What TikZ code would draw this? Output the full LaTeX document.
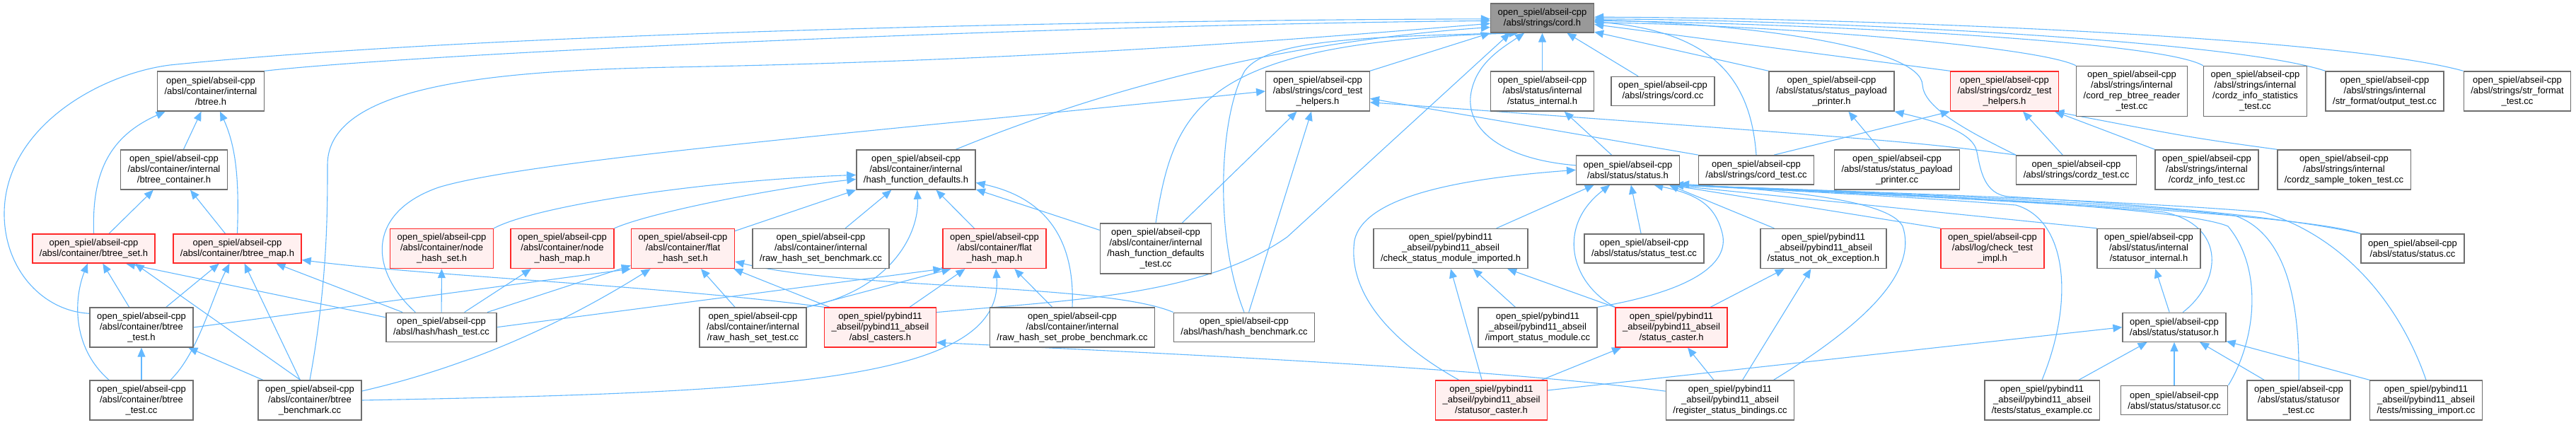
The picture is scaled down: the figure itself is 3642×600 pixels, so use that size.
\documentclass[tikz,border=0pt]{standalone}
\usepackage{fontspec}
\setmainfont{Liberation Sans}
\usetikzlibrary{arrows.meta,backgrounds}
\definecolor{edgeCol}{RGB}{99,184,255}
\definecolor{boxCol}{RGB}{110,110,110}
\definecolor{hotCol}{RGB}{255,40,40}
\definecolor{hotFill}{RGB}{255,240,240}
\definecolor{rootFill}{RGB}{153,153,153}
\tikzset{
  incl/.style={draw=boxCol,line width=0.7pt,fill=white,align=center,
               inner xsep=5pt,inner ysep=1pt,font=\fontsize{6.5}{7.5}\selectfont},
  hot/.style={incl,draw=hotCol,fill=hotFill},
  rootnode/.style={incl,fill=rootFill},
  l2/.style={minimum height=20.5pt},
  l3/.style={minimum height=28pt},
  l4/.style={minimum height=35.5pt},
  dep/.style={draw=edgeCol,line width=0.55pt,-{Triangle[length=6.5pt,width=5.5pt]}},
}

\begin{document}
\begin{tikzpicture}[x=0.5pt,y=-0.5pt]
    \useasboundingbox (0,0) rectangle (3642,600);
    \node[rootnode,l2] (cord) at (2180.5,25.5) {open\_spiel/abseil-cpp\\/absl/strings/cord.h};
    \node[incl,l3] (btree) at (298,129) {open\_spiel/abseil-cpp\\/absl/container/internal\\/btree.h};
    \node[incl,l3] (btreecont) at (246,240) {open\_spiel/abseil-cpp\\/absl/container/internal\\/btree\_container.h};
    \node[hot,l2] (btreeset) at (132.5,351.5) {open\_spiel/abseil-cpp\\/absl/container/btree\_set.h};
    \node[hot,l2] (btreemap) at (335.5,351.5) {open\_spiel/abseil-cpp\\/absl/container/btree\_map.h};
    \node[incl,l3] (btreetesth) at (200,463) {open\_spiel/abseil-cpp\\/absl/container/btree\\\_test.h};
    \node[incl,l3] (btreetestcc) at (200,566) {open\_spiel/abseil-cpp\\/absl/container/btree\\\_test.cc};
    \node[incl,l3] (btreebench) at (438,566) {open\_spiel/abseil-cpp\\/absl/container/btree\\\_benchmark.cc};
    \node[incl,l3] (hashfd) at (1295,240) {open\_spiel/abseil-cpp\\/absl/container/internal\\/hash\_function\_defaults.h};
    \node[hot,l3] (nodeset) at (624.6,351.5) {open\_spiel/abseil-cpp\\/absl/container/node\\\_hash\_set.h};
    \node[hot,l3] (nodemap) at (795,351.5) {open\_spiel/abseil-cpp\\/absl/container/node\\\_hash\_map.h};
    \node[hot,l3] (flatset) at (965.5,351.5) {open\_spiel/abseil-cpp\\/absl/container/flat\\\_hash\_set.h};
    \node[incl,l3] (rawbench) at (1160.5,351.5) {open\_spiel/abseil-cpp\\/absl/container/internal\\/raw\_hash\_set\_benchmark.cc};
    \node[hot,l3] (flatmap) at (1406,351.5) {open\_spiel/abseil-cpp\\/absl/container/flat\\\_hash\_map.h};
    \node[incl,l4] (hashfdtest) at (1634,351.5) {open\_spiel/abseil-cpp\\/absl/container/internal\\/hash\_function\_defaults\\\_test.cc};
    \node[incl,l2] (hashtest) at (624,462.7) {open\_spiel/abseil-cpp\\/absl/hash/hash\_test.cc};
    \node[incl,l3] (rawtest) at (1064.5,463) {open\_spiel/abseil-cpp\\/absl/container/internal\\/raw\_hash\_set\_test.cc};
    \node[hot,l3] (casters) at (1244.5,463) {open\_spiel/pybind11\\\_abseil/pybind11\_abseil\\/absl\_casters.h};
    \node[incl,l3] (probebench) at (1516,463) {open\_spiel/abseil-cpp\\/absl/container/internal\\/raw\_hash\_set\_probe\_benchmark.cc};
    \node[incl,l2] (hashbench) at (1759,462.7) {open\_spiel/abseil-cpp\\/absl/hash/hash\_benchmark.cc};
    \node[incl,l3] (cordth) at (1863,129) {open\_spiel/abseil-cpp\\/absl/strings/cord\_test\\\_helpers.h};
    \node[incl,l3] (statusint) at (2180.5,129) {open\_spiel/abseil-cpp\\/absl/status/internal\\/status\_internal.h};
    \node[incl,l2] (cordcc) at (2351,129) {open\_spiel/abseil-cpp\\/absl/strings/cord.cc};
    \node[incl,l2] (status) at (2301.5,240.3) {open\_spiel/abseil-cpp\\/absl/status/status.h};
    \node[incl,l2] (cordtest) at (2483,240.3) {open\_spiel/abseil-cpp\\/absl/strings/cord\_test.cc};
    \node[incl,l3] (payloadh) at (2589.5,129) {open\_spiel/abseil-cpp\\/absl/status/status\_payload\\\_printer.h};
    \node[incl,l3] (payloadcc) at (2682,240) {open\_spiel/abseil-cpp\\/absl/status/status\_payload\\\_printer.cc};
    \node[hot,l3] (cordzth) at (2834,129) {open\_spiel/abseil-cpp\\/absl/strings/cordz\_test\\\_helpers.h};
    \node[incl,l4] (btreereader) at (3014,129) {open\_spiel/abseil-cpp\\/absl/strings/internal\\/cord\_rep\_btree\_reader\\\_test.cc};
    \node[incl,l4] (cordzstats) at (3188.5,129) {open\_spiel/abseil-cpp\\/absl/strings/internal\\/cordz\_info\_statistics\\\_test.cc};
    \node[incl,l3] (outputtest) at (3371.5,129) {open\_spiel/abseil-cpp\\/absl/strings/internal\\/str\_format/output\_test.cc};
    \node[incl,l3] (strformattest) at (3559,129) {open\_spiel/abseil-cpp\\/absl/strings/str\_format\\\_test.cc};
    \node[incl,l2] (cordztest) at (2935.5,240.3) {open\_spiel/abseil-cpp\\/absl/strings/cordz\_test.cc};
    \node[incl,l3] (cordzinfotest) at (3120,240) {open\_spiel/abseil-cpp\\/absl/strings/internal\\/cordz\_info\_test.cc};
    \node[incl,l3] (sampletoken) at (3314,240) {open\_spiel/abseil-cpp\\/absl/strings/internal\\/cordz\_sample\_token\_test.cc};
    \node[incl,l3] (checkmod) at (2051,351.5) {open\_spiel/pybind11\\\_abseil/pybind11\_abseil\\/check\_status\_module\_imported.h};
    \node[incl,l2] (statustest) at (2324.5,351.5) {open\_spiel/abseil-cpp\\/absl/status/status\_test.cc};
    \node[incl,l3] (notok) at (2578,351.5) {open\_spiel/pybind11\\\_abseil/pybind11\_abseil\\/status\_not\_ok\_exception.h};
    \node[incl,l3] (importmod) at (2174,463) {open\_spiel/pybind11\\\_abseil/pybind11\_abseil\\/import\_status\_module.cc};
    \node[hot,l3] (statuscaster) at (2363,463) {open\_spiel/pybind11\\\_abseil/pybind11\_abseil\\/status\_caster.h};
    \node[hot,l3] (statusorcaster) at (2108.5,566) {open\_spiel/pybind11\\\_abseil/pybind11\_abseil\\/statusor\_caster.h};
    \node[incl,l3] (regbind) at (2446,566) {open\_spiel/pybind11\\\_abseil/pybind11\_abseil\\/register\_status\_bindings.cc};
    \node[hot,l3] (checkimpl) at (2817,351.5) {open\_spiel/abseil-cpp\\/absl/log/check\_test\\\_impl.h};
    \node[incl,l3] (statusorint) at (3038,351.5) {open\_spiel/abseil-cpp\\/absl/status/internal\\/statusor\_internal.h};
    \node[incl,l2] (statuscc) at (3411,351.5) {open\_spiel/abseil-cpp\\/absl/status/status.cc};
    \node[incl,l2] (statusor) at (3074,462.7) {open\_spiel/abseil-cpp\\/absl/status/statusor.h};
    \node[incl,l3] (example) at (2887,566) {open\_spiel/pybind11\\\_abseil/pybind11\_abseil\\/tests/status\_example.cc};
    \node[incl,l2] (statusorcc) at (3074,566) {open\_spiel/abseil-cpp\\/absl/status/statusor.cc};
    \node[incl,l3] (statusortest) at (3250,566) {open\_spiel/abseil-cpp\\/absl/status/statusor\\\_test.cc};
    \node[incl,l3] (missing) at (3430,566) {open\_spiel/pybind11\\\_abseil/pybind11\_abseil\\/tests/missing\_import.cc};
    \begin{scope}[on background layer]
    \draw[dep] (btreetesth.165) .. controls (60,440) and (5,380) .. (6,300)
      .. controls (8,180) and (140,105) .. (240,92) .. controls (700,45) and (1600,28) .. (cord.181);
    \draw[dep] (btree.north east) .. controls (600,75) and (1500,35) .. (cord.183);
    \draw[dep] (btreebench.north) .. controls (463,400) and (463,300) .. (463,233)
      .. controls (463,120) and (700,100) .. (950,95) .. controls (1500,85) and (1900,50) .. (cord.186);
    \draw[dep] (hashfd.27) .. controls (1550,130) and (1800,60) .. (cord.190);
    \draw[dep] (cordth.north east) -- (cord.south west);
    \draw[dep] (hashfdtest.north) .. controls (1660,150) and (1700,60) .. (cord.212);
    \draw[dep] (hashbench.north) .. controls (1715,330) and (1725,160) .. (1760,100)
      .. controls (1790,60) and (1900,52) .. (cord.208);
    \draw[dep] (casters.15) .. controls (1500,425) and (1700,420) .. (1820,335) -- (cord.205);
    \draw[dep] (statusint) -- (cord);
    \draw[dep] (cordcc) -- (cord);
    \draw[dep] (status.175) .. controls (2120,225) and (2070,180) .. (2080,130)
      .. controls (2088,90) and (2120,70) .. (cord.220);
    \draw[dep] (cordtest.north) .. controls (2475,110) and (2420,45) .. (cord.-4);
    \draw[dep] (payloadh.north west) -- (cord.-15);
    \draw[dep] (cordzth.north west) -- (cord.-7);
    \draw[dep] (btreereader.north west) .. controls (2880,65) and (2500,35) .. (cord.-5);
    \draw[dep] (cordzstats.north west) .. controls (3050,55) and (2500,32) .. (cord.-3);
    \draw[dep] (outputtest.north west) .. controls (3150,55) and (2550,28) .. (cord.-1);
    \draw[dep] (strformattest.north west) .. controls (3300,50) and (2600,25) .. (cord.1);
    \draw[dep] (cordztest.north west) .. controls (2770,180) and (2720,150) .. (2718,120)
      .. controls (2716,70) and (2500,35) .. (cord.-2);
    \draw[dep] (hashtest.150) .. controls (520,380) and (520,300) .. (620,265)
      .. controls (750,225) and (1300,180) .. (cordth.west);
    \draw[dep] (hashfdtest) -- (cordth);
    \draw[dep] (hashbench) -- (cordth);
    \draw[dep] (cordtest.north west) -- (cordth.-8);
    \draw[dep] (cordztest.north west) .. controls (2700,200) .. (cordth.-12);
    \draw[dep] (cordtest.40) -- (cordzth.south west);
    \draw[dep] (cordztest) -- (cordzth);
    \draw[dep] (cordzinfotest.north west) -- (cordzth.-22);
    \draw[dep] (sampletoken.north west) .. controls (3100,195) .. (cordzth.-22);
    \draw[dep] (payloadcc) -- (payloadh);
    \draw[dep] (statuscc.north west) .. controls (3200,300) and (2950,285) .. (2840,278)
      .. controls (2805,275) and (2800,240) .. (2795,215) .. controls (2790,185) and (2730,170) .. (payloadh.south east);
    \draw[dep] (checkmod) -- (status);
    \draw[dep] (statusorcaster.148) .. controls (1960,480) and (1905,410) .. (1915,340)
      .. controls (1930,270) and (2100,250) .. (status.west);
    \draw[dep] (statuscaster.north west) .. controls (2220,400) and (2200,320) .. (status.220);
    \draw[dep] (statustest) -- (status);
    \draw[dep] (importmod.north east) .. controls (2400,410) and (2445,370) .. (2435,330)
      .. controls (2425,290) and (2400,275) .. (status.-30);
    \draw[dep] (notok) -- (status.-20);
    \draw[dep] (regbind.25) .. controls (2650,450) and (2710,380) .. (2690,320)
      .. controls (2670,280) and (2500,268) .. (status.-15);
    \draw[dep] (checkimpl.north west) -- (status.-20);
    \draw[dep] (statusorint.north west) -- (status.-20);
    \draw[dep] (statuscc.north west) .. controls (3250,300) and (2700,275) .. (status.-18);
    \draw[dep] (statusor.60) .. controls (3140,400) and (3150,320) .. (3060,300)
      .. controls (2900,285) and (2500,268) .. (status.-18);
    \draw[dep] (example.north) .. controls (2935,420) and (2920,310) .. (2850,290)
      .. controls (2700,278) and (2500,268) .. (status.-18);
    \draw[dep] (statusorcc.north east) .. controls (3190,480) and (3200,380) .. (3150,320)
      .. controls (3080,290) and (2600,270) .. (status.-18);
    \draw[dep] (statusortest.north) .. controls (3252,420) and (3230,330) .. (3160,305)
      .. controls (3000,285) and (2600,270) .. (status.-18);
    \draw[dep] (missing.north) .. controls (3400,450) and (3330,340) .. (3200,300)
      .. controls (3000,283) and (2600,270) .. (status.-18);
    \draw[dep] (status) -- (statusint);
    \draw[dep] (statusorcaster.10) -- (statusor.west);
    \draw[dep] (example) -- (statusor);
    \draw[dep] (statusorcc) -- (statusor);
    \draw[dep] (statusortest) -- (statusor);
    \draw[dep] (missing.north west) -- (statusor);
    \draw[dep] (statusor) -- (statusorint);
    \draw[dep] (statusorcaster.115) -- (checkmod.south);
    \draw[dep] (importmod) -- (checkmod);
    \draw[dep] (statuscaster) -- (checkmod);
    \draw[dep] (statuscaster) -- (notok);
    \draw[dep] (regbind) -- (notok);
    \draw[dep] (statusorcaster) -- (statuscaster);
    \draw[dep] (regbind) -- (statuscaster);
    \draw[dep] (regbind.172) .. controls (2100,520) and (1650,500) .. (casters.-15);
    \draw[dep] (btreecont) -- (btree);
    \draw[dep] (btreeset.north) .. controls (130,250) and (150,195) .. (btree);
    \draw[dep] (btreemap.north) .. controls (338,260) and (335,210) .. (btree);
    \draw[dep] (btreeset) -- (btreecont);
    \draw[dep] (btreemap) -- (btreecont);
    \draw[dep] (btreetesth) -- (btreeset);
    \draw[dep] (btreetestcc.148) .. controls (100,490) and (105,420) .. (btreeset);
    \draw[dep] (btreebench.115) -- (btreeset.-20);
    \draw[dep] (hashtest.170) -- (btreeset.-25);
    \draw[dep] (btreetesth) -- (btreemap);
    \draw[dep] (btreetestcc.35) .. controls (280,500) and (300,420) .. (btreemap);
    \draw[dep] (btreebench) -- (btreemap);
    \draw[dep] (hashtest) -- (btreemap);
    \draw[dep] (casters.north west) .. controls (950,405) and (600,390) .. (btreemap.-10);
    \draw[dep] (btreetestcc) -- (btreetesth);
    \draw[dep] (btreebench) -- (btreetesth);
    \draw[dep] (nodeset.north east) .. controls (760,290) and (1000,255) .. (hashfd.185);
    \draw[dep] (nodemap.north east) .. controls (920,300) and (1100,265) .. (hashfd.189);
    \draw[dep] (flatset) -- (hashfd);
    \draw[dep] (rawbench) -- (hashfd);
    \draw[dep] (rawtest.north east) .. controls (1260,410) and (1300,330) .. (hashfd);
    \draw[dep] (flatmap) -- (hashfd);
    \draw[dep] (probebench.north) .. controls (1520,340) and (1480,280) .. (hashfd);
    \draw[dep] (hashfdtest) -- (hashfd);
    \draw[dep] (hashtest) -- (nodeset);
    \draw[dep] (hashtest) -- (nodemap);
    \draw[dep] (btreetesth.east) -- (flatset.south west);
    \draw[dep] (hashtest) -- (flatset);
    \draw[dep] (btreebench.10) .. controls (700,510) and (840,430) .. (flatset);
    \draw[dep] (rawtest) -- (flatset);
    \draw[dep] (casters) -- (flatset);
    \draw[dep] (hashbench.north west) .. controls (1560,400) and (1200,410) .. (flatset);
    \draw[dep] (casters) -- (flatmap);
    \draw[dep] (hashtest.east) -- (flatmap.south west);
    \draw[dep] (rawtest.north east) -- (flatmap.205);
    \draw[dep] (probebench) -- (flatmap);
    \draw[dep] (btreebench.east) .. controls (1100,555) and (1420,540) .. (flatmap);
    \end{scope}
\end{tikzpicture}
\end{document}
